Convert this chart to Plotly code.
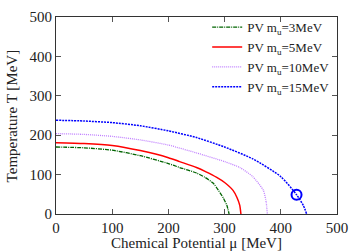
import plotly.graph_objects as go

mu_3 = [0, 50, 100, 150, 200, 220, 250, 265, 280, 289, 298, 304, 308]
T_3 = [170, 168, 162, 148, 128, 118, 104, 93, 78, 60, 40, 22, 0]

mu_5 = [0, 50, 100, 150, 200, 220, 250, 267, 286, 300, 315, 322, 327, 329]
T_5 = [181, 179, 174, 161, 143, 133, 118, 107, 93, 80, 60, 42, 22, 0]

mu_10 = [0, 50, 100, 150, 200, 250, 300, 327, 350, 369, 374, 376]
T_10 = [204, 202, 197, 188, 175, 155, 133, 118, 95, 60, 30, 0]

mu_15 = [0, 50, 100, 150, 200, 250, 300, 350, 400, 428, 440, 446]
T_15 = [238, 236, 232, 224, 211, 194, 170, 140, 95, 49, 22, 0]

cep_mu = [428]
cep_T = [49]

names = ["PV m<sub>u</sub>=3MeV", "PV m<sub>u</sub>=5MeV", "PV m<sub>u</sub>=10MeV", "PV m<sub>u</sub>=15MeV"]

fig = go.Figure()
fig.add_trace(go.Scatter(x=mu_3, y=T_3, mode="lines", name=names[0],
                         line=dict(color="#006400", width=1.3, dash="4px,1px,1px,1px", shape="spline", smoothing=0.6)))
fig.add_trace(go.Scatter(x=mu_5, y=T_5, mode="lines", name=names[1],
                         line=dict(color="#ff0000", width=1.5, shape="spline", smoothing=0.6)))
fig.add_trace(go.Scatter(x=mu_10, y=T_10, mode="lines", name=names[2],
                         line=dict(color="#c080ff", width=1.3, dash="1px,1px", shape="spline", smoothing=0.6)))
fig.add_trace(go.Scatter(x=mu_15, y=T_15, mode="lines", name=names[3],
                         line=dict(color="#0000ff", width=1.5, dash="2px,1px", shape="spline", smoothing=0.6)))
fig.add_trace(go.Scatter(x=cep_mu, y=cep_T, mode="markers", showlegend=False,
                         marker=dict(symbol="circle-open", size=10, color="#0000ff", line=dict(width=2))))

axis_common = dict(showline=True, mirror="allticks", linecolor="#333333", linewidth=1,
                   ticks="inside", ticklen=5, tickcolor="#555555", showgrid=False, zeroline=False,
                   dtick=100, tick0=0, automargin=False,
                   tickfont=dict(family="Liberation Serif", size=15, color="#222222"))

fig.update_layout(
    width=358, height=251,
    margin=dict(l=56, r=21, t=14, b=37),
    paper_bgcolor="white", plot_bgcolor="white",
    font=dict(family="Liberation Serif", size=15, color="#222222"),
    xaxis=dict(range=[0, 500], title=dict(text="Chemical Potential μ [MeV]", standoff=0,
                                         font=dict(family="Liberation Serif", size=15)), **axis_common),
    yaxis=dict(range=[0, 500], **axis_common),
    annotations=[dict(text="Temperature T [MeV]", xref="paper", yref="paper", x=-0.157, y=0.5,
                      xanchor="center", yanchor="middle", textangle=-90, showarrow=False,
                      font=dict(family="Liberation Serif", size=15, color="#222222"))],
    legend=dict(x=0.99, y=1.025, xanchor="right", yanchor="top", bgcolor="rgba(0,0,0,0)",
                font=dict(family="Liberation Serif", size=13), tracegroupgap=0,
                itemwidth=30),
)

fig.write_html("out.html", config={"displayModeBar": False})
with open("out.html", "r", encoding="utf-8") as f:
    html = f.read()
html = html.replace("<head>", "<head><style>html,body{margin:0;padding:0;overflow:hidden;}</style>", 1)
with open("out.html", "w", encoding="utf-8") as f:
    f.write(html)
